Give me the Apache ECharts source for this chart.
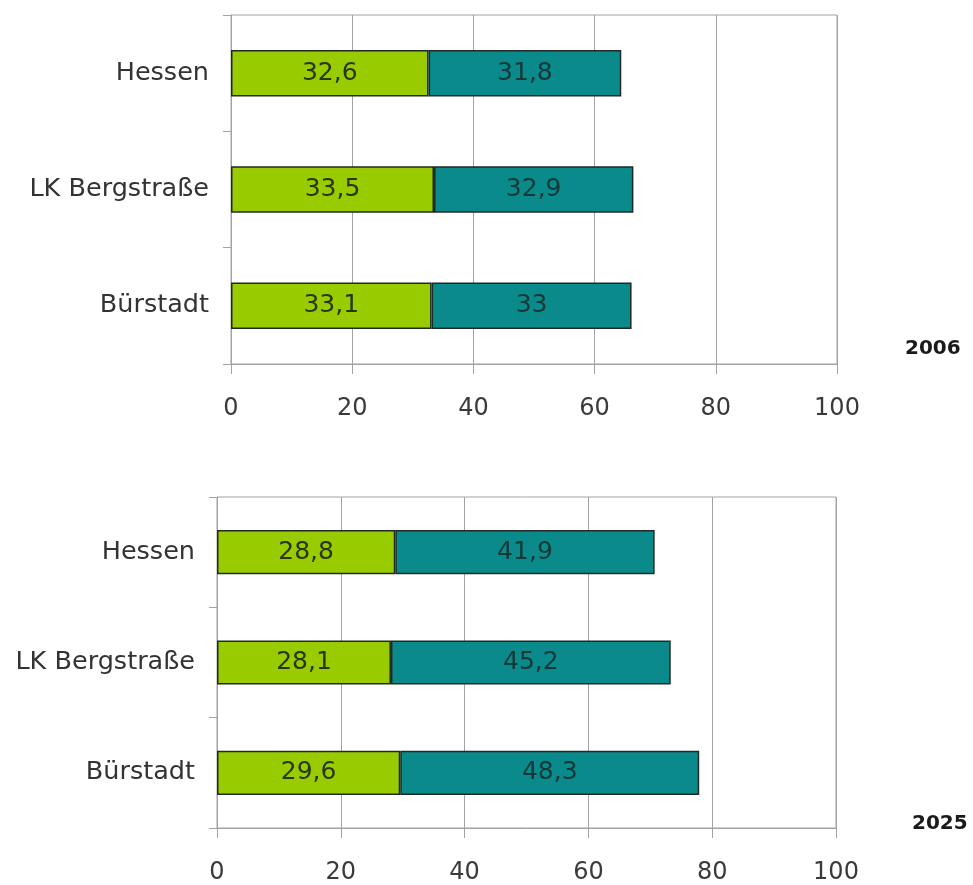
<!DOCTYPE html>
<html>
<head>
<meta charset="utf-8">
<script src="https://cdn.jsdelivr.net/npm/echarts@6/dist/echarts.min.js"></script>
<style>
  html, body { margin: 0; padding: 0; background: #fff; }
  #chart { width: 973px; height: 885px; }
</style>
</head>
<body>
<div id="chart"></div>
<script>
// Regions shown in both panels (top to bottom)
const regions = ['Hessen', 'LK Bergstraße', 'Bürstadt'];
const years = ['2006', '2025'];

// 2006 panel
const green2006 = [32.6, 33.5, 33.1];
const teal2006  = [31.8, 32.9, 33];

// 2025 panel
const green2025 = [28.8, 28.1, 29.6];
const teal2025  = [41.9, 45.2, 48.3];

const xTicks = [0, 20, 40, 60, 80, 100];

const FONT = "'DejaVu Sans', Verdana, sans-serif";
const GREY = '#a3a3a3';
const GREEN = '#99cc00';
const TEAL = '#0a8a8a';

function fmt(v) { return String(v).replace('.', ','); }

function xAxis(gridIndex) {
  return {
    type: 'value', gridIndex: gridIndex,
    min: xTicks[0], max: xTicks[xTicks.length - 1], interval: 20,
    axisLine: { show: true, lineStyle: { color: GREY, width: 1 } },
    axisTick: { show: true, length: 10, lineStyle: { color: GREY } },
    splitLine: { show: true, lineStyle: { color: GREY, width: 1 } },
    axisLabel: { fontFamily: FONT, fontSize: 24, color: '#3a3a3a', margin: 33 }
  };
}

function yAxis(gridIndex) {
  return {
    type: 'category', gridIndex: gridIndex, data: regions, inverse: true,
    axisLine: { show: true, lineStyle: { color: GREY, width: 1 } },
    axisTick: { show: true, length: 8, lineStyle: { color: GREY } },
    axisLabel: { fontFamily: FONT, fontSize: 25.5, color: '#333', margin: 22 }
  };
}

function bar(name, data, idx, color, labelColor) {
  return {
    name: name, type: 'bar', stack: 's' + idx,
    xAxisIndex: idx, yAxisIndex: idx,
    data: data, barWidth: '40%',
    itemStyle: { color: color, borderColor: '#1e2a22', borderWidth: 1.5 },
    label: {
      show: true, position: 'inside',
      fontFamily: FONT, fontSize: 25, color: labelColor,
      formatter: p => fmt(p.value)
    },
    silent: true
  };
}

const chart = echarts.init(document.getElementById('chart'), null, { renderer: 'canvas' });
chart.setOption({
  animation: false,
  backgroundColor: '#ffffff',
  grid: [
    { left: 231, top: 15, width: 606, height: 349, show: true, borderColor: GREY, borderWidth: 1, backgroundColor: '#fff' },
    { left: 217, top: 497, width: 619, height: 334, show: true, borderColor: GREY, borderWidth: 1, backgroundColor: '#fff' }
  ],
  xAxis: [xAxis(0), xAxis(1)],
  yAxis: [yAxis(0), yAxis(1)],
  series: [
    bar('green', green2006, 0, GREEN, '#2a3612'),
    bar('teal', teal2006, 0, TEAL, '#143838'),
    bar('green', green2025, 1, GREEN, '#2a3612'),
    bar('teal', teal2025, 1, TEAL, '#143838')
  ],
  graphic: [
    { type: 'text', left: 905, top: 339, style: { text: years[0], font: "bold 20px 'DejaVu Sans'", fill: '#1a1a1a' } },
    { type: 'text', left: 912, top: 814, style: { text: years[1], font: "bold 20px 'DejaVu Sans'", fill: '#1a1a1a' } }
  ]
});
</script>
</body>
</html>
